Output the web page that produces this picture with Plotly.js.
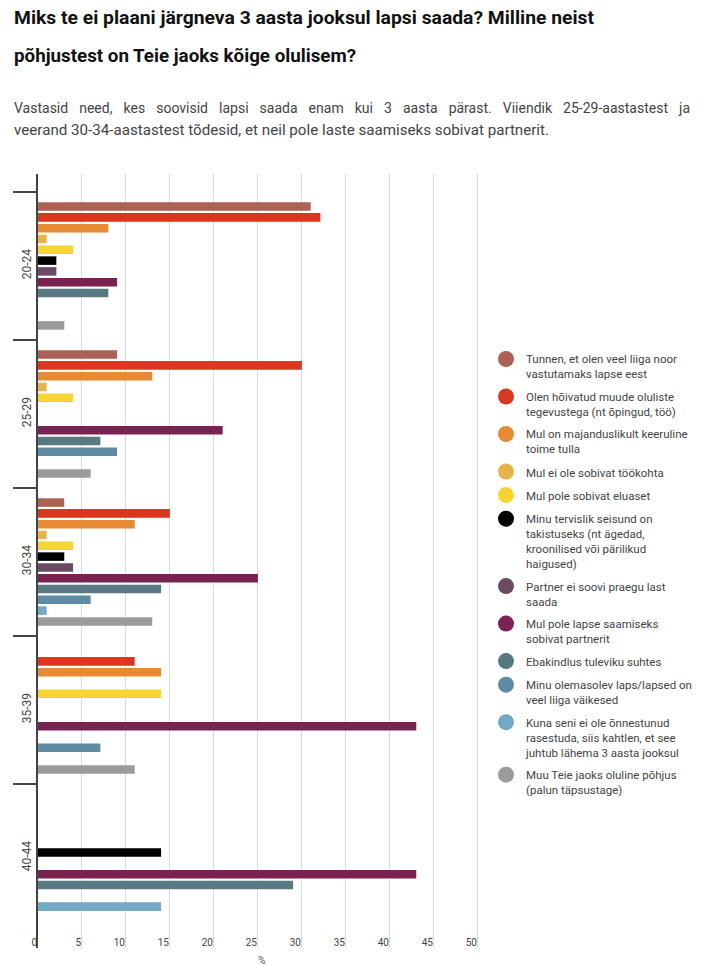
<!DOCTYPE html>
<html>
<head>
<meta charset="utf-8">
<script src="https://cdn.plot.ly/plotly-3.0.1.min.js"></script>
<style>
  html, body { margin:0; padding:0; background:#fff; }
  body { width:711px; height:966px; position:relative; overflow:hidden; font-family: Roboto, "Noto Sans", sans-serif; }
  #chart { position:absolute; left:0; top:0; width:711px; height:966px; }
  .hdr { position:absolute; left:14px; white-space:nowrap; transform-origin:0 50%; }
  .t { font-weight:700; font-size:18.3px; color:#111; }
  .s { font-size:14px; color:#444; }
</style>
</head>
<body>
<div id="chart"></div>
<div class="hdr t" id="t1" style="top:7px;">Miks te ei plaani järgneva 3 aasta jooksul lapsi saada? Milline neist</div>
<div class="hdr t" id="t2" style="top:45px;">põhjustest on Teie jaoks kõige olulisem?</div>
<div class="hdr s" id="s1" style="top:100px; width:676px; text-align:justify; text-align-last:justify; white-space:normal;">Vastasid need, kes soovisid lapsi saada enam kui 3 aasta pärast. Viiendik 25-29-aastastest ja</div>
<div class="hdr s" id="s2" style="top:122px;">veerand 30-34-aastastest tõdesid, et neil pole laste saamiseks sobivat partnerit.</div>
<script>
// ---- data ----
var ageGroups = ['20-24', '25-29', '30-34', '35-39', '40-44'];

var seriesNames = [
  'Tunnen, et olen veel liiga noor<br>vastutamaks lapse eest',
  'Olen hõivatud muude oluliste<br>tegevustega (nt õpingud, töö)',
  'Mul on majanduslikult keeruline<br>toime tulla',
  'Mul ei ole sobivat töökohta',
  'Mul pole sobivat eluaset',
  'Minu tervislik seisund on<br>takistuseks (nt ägedad,<br>kroonilised või pärilikud<br>haigused)',
  'Partner ei soovi praegu last<br>saada',
  'Mul pole lapse saamiseks<br>sobivat partnerit',
  'Ebakindlus tuleviku suhtes',
  'Minu olemasolev laps/lapsed on<br>veel liiga väikesed',
  'Kuna seni ei ole õnnestunud<br>rasestuda, siis kahtlen, et see<br>juhtub lähema 3 aasta jooksul',
  'Muu Teie jaoks oluline põhjus<br>(palun täpsustage)'
];

var seriesColors = ['#ac6154', '#da3721', '#e68a33', '#e6b44b', '#f6d432', '#000000',
                    '#6b4a63', '#7a2251', '#587882', '#5f8ba5', '#72a9c7', '#9b9b9b'];

// values per series, in ageGroups order (%)
var vTooYoung     = [31.1,  9.1,  3.1,  0,    0];
var vBusy         = [32.2, 30.1, 15.1, 11.1,  0];
var vEconomic     = [ 8.1, 13.1, 11.1, 14.1,  0];
var vNoJob        = [ 1.1,  1.1,  1.1,  0,    0];
var vNoHousing    = [ 4.1,  4.1,  4.1, 14.1,  0];
var vHealth       = [ 2.2,  0,    3.1,  0,   14.1];
var vPartnerNo    = [ 2.2,  0,    4.1,  0,    0];
var vNoPartner    = [ 9.1, 21.1, 25.1, 43.1, 43.1];
var vUncertainty  = [ 8.1,  7.2, 14.1,  0,   29.1];
var vChildSmall   = [ 0,    9.1,  6.1,  7.2,  0];
var vInfertility  = [ 0,    0,    1.1,  0,   14.1];
var vOther        = [ 3.1,  6.1, 13.1, 11.1,  0];

var seriesValues = [vTooYoung, vBusy, vEconomic, vNoJob, vNoHousing, vHealth,
                    vPartnerNo, vNoPartner, vUncertainty, vChildSmall, vInfertility, vOther];

var xTickVals = [0, 5, 10, 15, 20, 25, 30, 35, 40, 45, 50];

// ---- traces ----
var traces = [];
seriesNames.forEach(function (nm, i) {
  traces.push({
    type: 'bar', orientation: 'h',
    y: ageGroups, x: seriesValues[i],
    name: nm, legendgroup: 'g' + i, showlegend: false,
    marker: { color: seriesColors[i] },
    hoverinfo: 'x+name'
  });
});
seriesNames.forEach(function (nm, i) {
  traces.push({
    type: 'scatter', mode: 'markers',
    x: [null], y: [null],
    name: nm, legendgroup: 'g' + i, showlegend: true,
    marker: { color: seriesColors[i], size: 16, symbol: 'circle' },
    hoverinfo: 'skip'
  });
});

var L = 10, R = 514, T = 174, B = 948;
var W = 711, H = 966;
var pxPerUnit = 8.8, axisPx = 37;
var xMin = -(axisPx - L) / pxPerUnit, xMax = (R - axisPx) / pxPerUnit;

var layout = {
  width: W, height: H,
  margin: { l: L, r: W - R, t: T, b: H - B, pad: 0 },
  paper_bgcolor: 'rgba(0,0,0,0)', plot_bgcolor: 'rgba(0,0,0,0)',
  font: { family: 'Roboto, "Noto Sans", sans-serif', color: '#444' },
  barmode: 'group', bargap: 0.124, bargroupgap: 0.21,
  showlegend: true,
  legend: {
    x: (486 - L) / (R - L), xanchor: 'left',
    y: 1 - (345 - T) / (B - T), yanchor: 'top',
    valign: 'top', traceorder: 'grouped', tracegroupgap: 4.6,
    font: { size: 11.5, color: '#444' },
    bgcolor: 'rgba(0,0,0,0)'
  },
  xaxis: {
    range: [xMin, xMax], tickmode: 'array', tickvals: xTickVals,
    ticktext: xTickVals.map(String),
    showgrid: true, gridcolor: '#dadada', gridwidth: 1,
    zeroline: false, showline: false, ticks: '',
    ticklabelposition: 'inside left', ticklabelstandoff: -6,
    tickfont: { size: 10, color: '#444' },
    title: { text: '%', font: { size: 10, color: '#555' }, standoff: 17 },
    automargin: false, fixedrange: true
  },
  yaxis: {
    type: 'category', categoryorder: 'array', categoryarray: ageGroups,
    range: [4.5 + (B - 932) / 148, -0.5 - (192 - T) / 148],
    anchor: 'free', position: (axisPx - L) / (R - L),
    showline: true, linecolor: '#444', linewidth: 2,
    ticks: 'outside', tickson: 'boundaries', ticklen: 23, tickwidth: 1.5, tickcolor: '#444',
    tickangle: -90, tickfont: { size: 12, color: '#444' },
    ticklabelstandoff: 0,
    showgrid: false, zeroline: false, automargin: false, fixedrange: true
  }
};

Plotly.newPlot('chart', traces, layout, { displayModeBar: false, staticPlot: true });

// ---- header text fitting ----
function fit(id, target) {
  var el = document.getElementById(id);
  var w = el.getBoundingClientRect().width;
  el.style.transform = 'scaleX(' + (target / w) + ')';
}
fit('t1', 580);
fit('t2', 342);
fit('s2', 535);
</script>
</body>
</html>
